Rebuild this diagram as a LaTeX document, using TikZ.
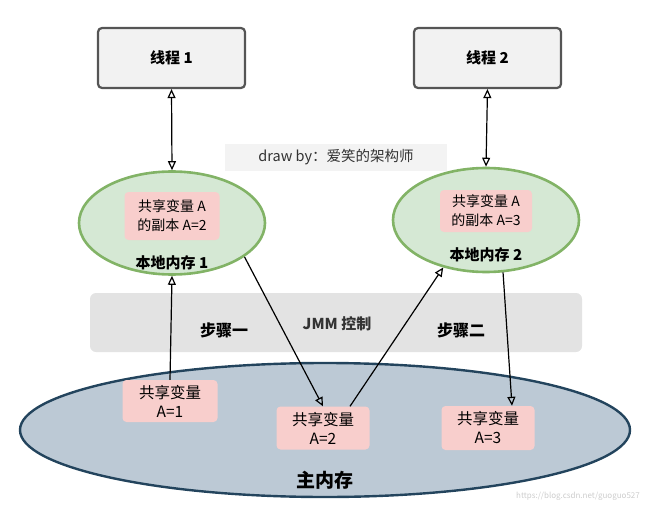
\documentclass[tikz,border=0pt]{standalone}
\usepackage{fontspec}
\setmainfont{Noto Sans CJK SC}
\usetikzlibrary{shapes.geometric,arrows.meta,calc}
\definecolor{thrfill}{HTML}{F2F2F2}
\definecolor{thrdraw}{HTML}{555555}
\definecolor{grfill}{HTML}{D5E8D4}
\definecolor{grdraw}{HTML}{82B366}
\definecolor{pinkfill}{HTML}{F8CECC}
\definecolor{mmfill}{HTML}{BCC9D5}
\definecolor{mmdraw}{HTML}{23445D}
\definecolor{bandfill}{HTML}{E3E3E3}
\definecolor{credfill}{HTML}{F3F3F3}
\begin{document}
\begin{tikzpicture}[x=1pt,y=-1pt,
  thread/.style={draw=thrdraw,fill=thrfill,line width=2.2pt,rounded corners=4pt,minimum width=147pt,minimum height=60pt,font=\fontsize{15}{17}\selectfont\bfseries},
  localmem/.style={ellipse,draw=grdraw,fill=grfill,line width=2.6pt},
  copybox/.style={fill=pinkfill,rounded corners=4pt,align=center,font=\fontsize{14}{19}\selectfont,inner sep=0pt},
  mainbox/.style={copybox,font=\fontsize{15.5}{19}\selectfont},
  lbl/.style={font=\fontsize{15}{17}\selectfont\bfseries},
  steplbl/.style={font=\fontsize{16}{18}\selectfont\bfseries},
  conn/.style={line width=1.2pt,-{Triangle[open,length=9pt,width=8pt]}},
  bconn/.style={line width=1.2pt,{Triangle[open,length=9pt,width=8pt]}-{Triangle[open,length=9pt,width=8pt]}}]
\useasboundingbox (0,0) rectangle (650,508);
% JMM band and main memory
\node[fill=bandfill,rounded corners=6pt,minimum width=492pt,minimum height=59pt] (jmm) at (336,322.5) {};
\node[ellipse,draw=mmdraw,fill=mmfill,line width=2.4pt,minimum width=610pt,minimum height=134pt] (mm) at (325,430) {};
\node[font=\fontsize{15}{17}\selectfont\bfseries,text=black!80] (jmmt) at (337,324) {JMM 控制};
\node[steplbl] (s1) at (224,330) {步骤一};
\node[steplbl] (s2) at (461,330) {步骤二};
% threads
\node[thread] (t1) at (171.5,58) {线程 1};
\node[thread] (t2) at (487.5,58) {线程 2};
% credit
\node[fill=credfill,minimum width=222pt,minimum height=27pt,font=\fontsize{14.5}{16}\selectfont,text=black!80] (cred) at (336,157) {draw by：爱笑的架构师};
% local memories
\node[localmem,minimum width=186pt,minimum height=103pt] (e1) at (172,223) {};
\node[copybox,minimum width=95pt,minimum height=48pt] (c1) at (172,216) {共享变量 A\\的副本 A=2};
\node[lbl] (l1) at (172,263) {本地内存 1};
\node[localmem,minimum width=186pt,minimum height=104pt] (e2) at (486,220) {};
\node[copybox,minimum width=92pt,minimum height=42pt] (c2) at (486,211) {共享变量 A\\的副本 A=3};
\node[lbl] (l2) at (486,255) {本地内存 2};
% main memory variables
\node[mainbox,minimum width=95pt,minimum height=42pt] (m1) at (170,401) {共享变量\\A=1};
\node[mainbox,minimum width=93pt,minimum height=43pt] (m2) at (323,428) {共享变量\\A=2};
\node[mainbox,minimum width=93pt,minimum height=44pt] (m3) at (488,428) {共享变量\\A=3};
\node[font=\fontsize{19}{21}\selectfont\bfseries] (mml) at (325,480) {主内存};
\node[font=\fontsize{8}{9}\selectfont,text=black!20] (wm) at (578,496) {https://blog.csdn.net/guoguo527};
% connectors
\draw[bconn] (t1.south) -- (e1.north);
\draw[bconn] (t2.south) -- (e2.north);
\draw[conn] (m1.north) -- (e1.south);
\draw[conn] (e1.-25) -- (m2.north);
\draw[conn] ([xshift=27pt]m2.north) -- (e2.-132);
\draw[conn] (e2.-72) -- ([xshift=24pt]m3.north);
\end{tikzpicture}
\end{document}
